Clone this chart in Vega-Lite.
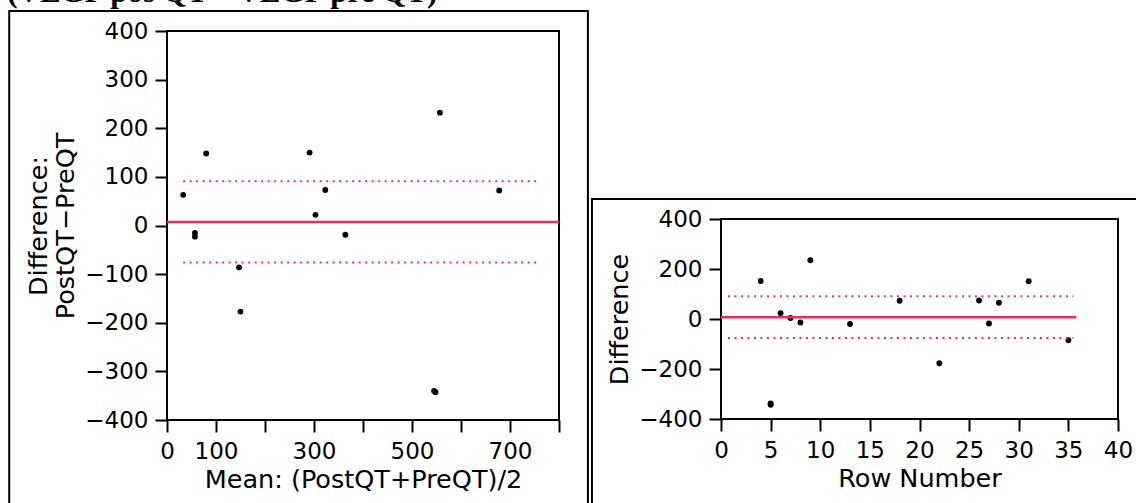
{
  "$schema": "https://vega.github.io/schema/vega-lite/v6.json",
  "padding": {"top": -23, "left": 7, "right": -13, "bottom": -15},
  "background": "white",
  "title": {"text": "(VEGF pos QT – VEGF pre QT)", "anchor": "start", "font": "Liberation Serif", "fontSize": 31, "fontWeight": "bold", "color": "black", "offset": 0, "frame": "bounds"},
  "config": {
    "view": {"stroke": "black", "strokeWidth": 2},
    "axis": {"domain": false, "grid": false, "ticks": true, "tickColor": "black", "tickWidth": 2, "tickSize": 12, "labelFont": "DejaVu Sans", "labelFontSize": 23, "labelColor": "black", "labelPadding": 7, "titleFont": "DejaVu Sans", "titleFontSize": 25.5, "titleFontWeight": "normal", "titleColor": "black", "labelOverlap": false, "labelFlush": false},
    "axisX": {"labelPadding": 8, "titlePadding": 4},
    "axisY": {"titlePadding": 6}
  },
  "datasets": {
    "frameL": [{"x1": -322, "x2": 859, "y1": 441, "y2": -600}],
    "frameR": [{"x1": -13, "x2": 43, "y1": 480, "y2": -780}],
    "pointsL": [
      {"mean": 33, "diff": 63}, {"mean": 80, "diff": 148}, {"mean": 57, "diff": -15}, {"mean": 57, "diff": -23},
      {"mean": 291, "diff": 150}, {"mean": 303, "diff": 22}, {"mean": 323, "diff": 73}, {"mean": 364, "diff": -19},
      {"mean": 557, "diff": 232}, {"mean": 678, "diff": 72}, {"mean": 147, "diff": -86}, {"mean": 150, "diff": -177},
      {"mean": 545, "diff": -340}, {"mean": 548, "diff": -343}
    ],
    "pointsR": [
      {"row": 4, "diff": 152}, {"row": 5, "diff": -338}, {"row": 5, "diff": -343}, {"row": 6, "diff": 23},
      {"row": 7, "diff": 4}, {"row": 8, "diff": -14}, {"row": 9, "diff": 235}, {"row": 13, "diff": -20},
      {"row": 18, "diff": 73}, {"row": 22, "diff": -177}, {"row": 26, "diff": 74}, {"row": 27, "diff": -18},
      {"row": 28, "diff": 65}, {"row": 31, "diff": 151}, {"row": 35, "diff": -85}
    ],
    "meanL": [{"x1": 0, "x2": 800, "y": 7}],
    "limL": [{"x1": 33, "x2": 757, "y": 91}, {"x1": 33, "x2": 757, "y": -76}],
    "meanR": [{"x1": 0, "x2": 35.8, "y": 7}],
    "limR": [{"x1": 0.7, "x2": 35.5, "y": 91}, {"x1": 0.7, "x2": 35.5, "y": -76}]
  },
  "spacing": -1,
  "hconcat": [
    {
      "width": 392,
      "height": 389,
      "layer": [
        {
          "data": {"name": "frameL"},
          "mark": {"type": "rect", "fill": null, "stroke": "black", "strokeWidth": 2, "clip": false},
          "encoding": {
            "x": {"field": "x1", "type": "quantitative", "scale": {"domain": [0, 800], "nice": false, "zero": false},
                  "axis": {"title": "Mean: (PostQT+PreQT)/2", "values": [0, 100, 200, 300, 400, 500, 600, 700, 800],
                           "labelExpr": "indexof([0, 100, 300, 500, 700], datum.value) >= 0 ? datum.label : ''"}},
            "x2": {"field": "x2"},
            "y": {"field": "y1", "type": "quantitative", "scale": {"domain": [-400, 400], "nice": false, "zero": false},
                  "axis": {"title": ["Difference:", "PostQT−PreQT"], "values": [-400, -300, -200, -100, 0, 100, 200, 300, 400]}},
            "y2": {"field": "y2"}
          }
        },
        {
          "data": {"name": "pointsL"},
          "mark": {"type": "point", "filled": true, "color": "black", "opacity": 1, "size": 34},
          "encoding": {
            "x": {"field": "mean", "type": "quantitative", "title": "Mean: (PostQT+PreQT)/2"},
            "y": {"field": "diff", "type": "quantitative", "title": ["Difference:", "PostQT−PreQT"]}
          }
        },
        {
          "data": {"name": "meanL"},
          "mark": {"type": "rule", "color": "#ee2a5c", "strokeWidth": 2.5},
          "encoding": {
            "x": {"field": "x1", "type": "quantitative", "title": "Mean: (PostQT+PreQT)/2"},
            "x2": {"field": "x2"},
            "y": {"field": "y", "type": "quantitative", "title": ["Difference:", "PostQT−PreQT"]}
          }
        },
        {
          "data": {"name": "limL"},
          "mark": {"type": "rule", "color": "#f52a66", "strokeWidth": 2, "strokeDash": [2, 4.5]},
          "encoding": {
            "x": {"field": "x1", "type": "quantitative", "title": "Mean: (PostQT+PreQT)/2"},
            "x2": {"field": "x2"},
            "y": {"field": "y", "type": "quantitative", "title": ["Difference:", "PostQT−PreQT"]}
          }
        }
      ]
    },
    {
      "spacing": 0,
      "vconcat": [
        {
          "width": 1,
          "height": 165,
          "data": {"values": []},
          "mark": "point",
          "view": {"stroke": null}
        },
        {
          "width": 397,
          "height": 200,
          "layer": [
            {
              "data": {"name": "frameR"},
              "mark": {"type": "rect", "fill": null, "stroke": "black", "strokeWidth": 2, "clip": false},
              "encoding": {
                "x": {"field": "x1", "type": "quantitative", "scale": {"domain": [0, 40], "nice": false, "zero": false},
                      "axis": {"title": "Row Number", "values": [0, 5, 10, 15, 20, 25, 30, 35, 40]}},
                "x2": {"field": "x2"},
                "y": {"field": "y1", "type": "quantitative", "scale": {"domain": [-400, 400], "nice": false, "zero": false},
                      "axis": {"title": "Difference", "values": [-400, -300, -200, -100, 0, 100, 200, 300, 400],
                               "labelExpr": "datum.value % 200 === 0 ? datum.label : ''"}},
                "y2": {"field": "y2"}
              }
            },
            {
              "data": {"name": "pointsR"},
              "mark": {"type": "point", "filled": true, "color": "black", "opacity": 1, "size": 34},
              "encoding": {
                "x": {"field": "row", "type": "quantitative", "title": "Row Number"},
                "y": {"field": "diff", "type": "quantitative", "title": "Difference"}
              }
            },
            {
              "data": {"name": "meanR"},
              "mark": {"type": "rule", "color": "#ee2a5c", "strokeWidth": 2.5},
              "encoding": {
                "x": {"field": "x1", "type": "quantitative", "title": "Row Number"},
                "x2": {"field": "x2"},
                "y": {"field": "y", "type": "quantitative", "title": "Difference"}
              }
            },
            {
              "data": {"name": "limR"},
              "mark": {"type": "rule", "color": "#f52a66", "strokeWidth": 2, "strokeDash": [2, 4.5]},
              "encoding": {
                "x": {"field": "x1", "type": "quantitative", "title": "Row Number"},
                "x2": {"field": "x2"},
                "y": {"field": "y", "type": "quantitative", "title": "Difference"}
              }
            }
          ]
        }
      ]
    }
  ]
}
